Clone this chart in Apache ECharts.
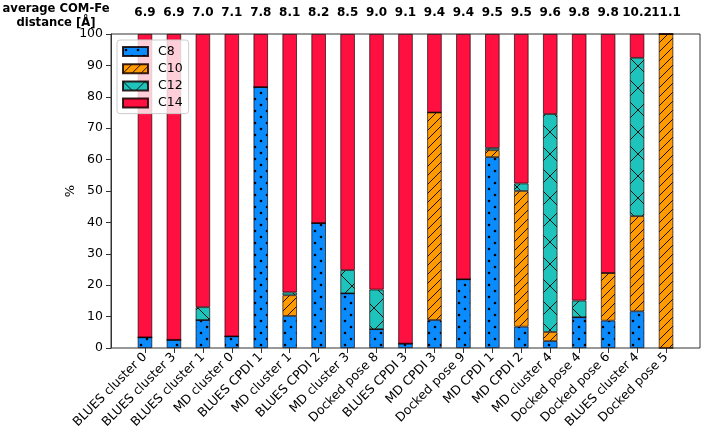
<!DOCTYPE html>
<html><head><meta charset="utf-8">
<script src="https://cdn.jsdelivr.net/npm/echarts@6/dist/echarts.min.js"></script>
<style>html,body{margin:0;padding:0;background:#fff}#c{width:702px;height:428px}</style>
</head><body><div id="c"></div>
<script>
const categories = ['BLUES cluster 0','BLUES cluster 3','BLUES cluster 1','MD cluster 0','BLUES CPDI 1','MD cluster 1','BLUES CPDI 2','MD cluster 3','Docked pose 8','BLUES CPDI 3','MD CPDI 3','Docked pose 9','MD CPDI 1','MD CPDI 2','MD cluster 4','Docked pose 4','Docked pose 6','BLUES cluster 4','Docked pose 5'];
const distances = ['6.9','6.9','7.0','7.1','7.8','8.1','8.2','8.5','9.0','9.1','9.4','9.4','9.5','9.5','9.6','9.8','9.8','10.2','11.1'];
const c8  = [3.4, 2.6, 8.9, 3.7, 83.1, 10.2, 39.8, 17.4, 6.0, 1.4, 8.9, 21.9, 60.8, 6.8, 2.2, 9.8, 8.7, 11.7, 0];
const c10 = [0, 0, 0, 0, 0, 6.6, 0, 0, 0, 0, 66.1, 0, 2.2, 43.2, 2.9, 0, 15.2, 30.3, 100];
const c12 = [0, 0, 4.1, 0, 0, 0.9, 0, 7.4, 12.6, 0, 0, 0, 0.7, 2.4, 69.4, 5.3, 0, 50.4, 0];
const c14 = [96.6, 97.4, 87.0, 96.3, 16.9, 82.3, 60.2, 75.2, 81.4, 98.6, 25.0, 78.1, 36.3, 47.6, 25.5, 84.9, 76.1, 7.6, 0];

function makePattern(base, kind) {
  const s = kind === 'x' ? 22 : (kind === '/' ? 9 : 12);
  const c = document.createElement('canvas');
  c.width = s; c.height = s;
  const g = c.getContext('2d');
  g.fillStyle = base; g.fillRect(0, 0, s, s);
  g.strokeStyle = '#000'; g.fillStyle = '#000'; g.lineWidth = 0.9;
  if (kind === '.') {
    [[3, 3], [9, 9]].forEach(p => { g.beginPath(); g.arc(p[0], p[1], 1.3, 0, Math.PI * 2); g.fill(); });
  } else if (kind === '/') {
    g.beginPath();
    for (let k = -1; k <= 1; k++) { g.moveTo(k * s, s); g.lineTo(k * s + s, 0); }
    g.stroke();
  } else if (kind === 'x') {
    g.beginPath();
    for (let k = -1; k <= 1; k++) {
      g.moveTo(k * s, s); g.lineTo(k * s + s, 0);
      g.moveTo(k * s, 0); g.lineTo(k * s + s, s);
    }
    g.stroke();
  }
  return { image: c, repeat: 'repeat' };
}

const font = 'DejaVu Sans';
const names = ['C8','C10','C12','C14'];
const vals = [c8, c10, c12, c14];
const fills = [makePattern('#0a8cff','.'), makePattern('#ff9a00','/'), makePattern('#1ec4bc','x'), '#ff1040'];

const chart = echarts.init(document.getElementById('c'), null, {renderer: 'canvas'});
chart.setOption({
  animation: false,
  textStyle: {fontFamily: font},
  graphic: [{type: 'text', x: 56, y: 2, style: {text: 'average COM-Fe\ndistance [Å]', font: 'bold 11.6px "DejaVu Sans"', textAlign: 'center', textVerticalAlign: 'top', lineHeight: 14, fill: '#000'}}],
  legend: {
    orient: 'vertical', left: 117, top: 40,
    backgroundColor: 'rgba(255,255,255,0.8)', borderColor: '#ccc', borderWidth: 1, borderRadius: 3,
    padding: [5, 6, 4, 5], itemWidth: 25, itemHeight: 9, itemGap: 4.2,
    textStyle: {fontSize: 12.5, color: '#000', fontFamily: font, padding: [0,0,0,5]},
    data: names.map(n => ({name: n, icon: 'rect'}))
  },
  grid: [
    {left: 130.5, right: 21.5, top: 34, bottom: 80, outerBoundsMode: 'none', containLabel: false},
    {left: 111, right: 2, top: 34, bottom: 80, outerBoundsMode: 'none', containLabel: false, show: true, borderColor: '#333', borderWidth: 1, backgroundColor: 'transparent'}
  ],
  xAxis: [
    {type: 'category', gridIndex: 0, data: categories, boundaryGap: true,
     axisLine: {show: false}, axisTick: {show: true, alignWithLabel: true, length: 5, lineStyle: {color: '#333'}},
     axisLabel: {interval: 0, rotate: 45, fontSize: 12.5, color: '#000', margin: 7, fontFamily: font}},
    {type: 'category', gridIndex: 0, position: 'top', data: distances, boundaryGap: true,
     axisLine: {show: false}, axisTick: {show: false},
     axisLabel: {interval: 0, fontSize: 12, fontWeight: 'bold', color: '#000', margin: 15, fontFamily: font}},
    {type: 'value', gridIndex: 1, min: 0, max: 1, show: false}
  ],
  yAxis: [
    {type: 'value', gridIndex: 0, min: 0, max: 100, show: false},
    {type: 'value', gridIndex: 1, min: 0, max: 100, interval: 10, name: '%', nameLocation: 'middle', nameGap: 34,
     nameMoveOverlap: false,
     nameTextStyle: {fontSize: 13, color: '#000', fontFamily: font},
     axisLine: {show: true, lineStyle: {color: '#333'}}, axisTick: {show: true, length: 5, lineStyle: {color: '#333'}},
     splitLine: {show: false},
     axisLabel: {fontSize: 12.5, color: '#000', margin: 8, fontFamily: font, formatter: v => String(v)}}
  ],
  series: names.map((n, k) => ({
    name: n, type: 'bar', stack: 'all', xAxisIndex: 0, yAxisIndex: 0, barWidth: '50%',
    itemStyle: {color: fills[k], borderColor: 'rgba(20,0,0,0.85)', borderWidth: 0.8},
    data: vals[k]
  }))
});
</script></body></html>
